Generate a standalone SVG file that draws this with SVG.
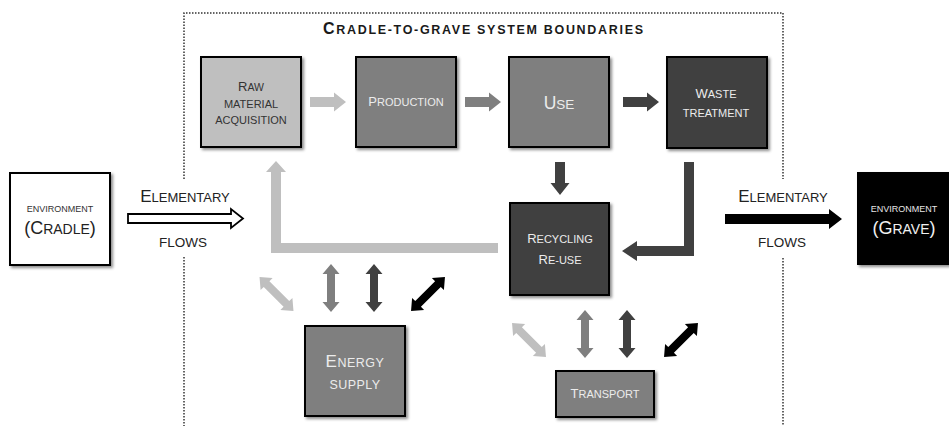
<svg xmlns="http://www.w3.org/2000/svg" xmlns:xlink="http://www.w3.org/1999/xlink" width="949" height="426" viewBox="0 0 949 426">
  <defs>
    <filter id="shadow" x="-10%" y="-10%" width="125%" height="125%">
      <feDropShadow dx="2" dy="2" stdDeviation="1.6" flood-color="#000" flood-opacity="0.45"/>
    </filter>
    <!-- double-headed exchange arrow, vertical, centred on the origin -->
    <path id="dbl" d="M0,-24 L8.5,-14 L4,-14 L4,14 L8.5,14 L0,24 L-8.5,14 L-4,14 L-4,-14 L-8.5,-14 Z"/>
    <!-- single flow arrow pointing right, starting at the origin -->
    <path id="fwd" d="M0,-5 L24,-5 L24,-9.5 L36,0 L24,9.5 L24,5 L0,5 Z"/>
  </defs>
  <style>
    text { font-family: "Liberation Sans", Arial, sans-serif; text-anchor: middle; }
    .box { stroke: #000; stroke-width: 2; filter: url(#shadow); }
    .light { fill: #bfbfbf; }
    .mid { fill: #7f7f7f; }
    .dark { fill: #404040; }
    .black { fill: #000; }
    .lbl-dark { fill: #333; }
    .lbl-light { fill: #ececec; }
    .boundary { fill: none; stroke: #333; stroke-width: 1.5; stroke-dasharray: 1.5 1.5; }
    .title { font-weight: bold; fill: #1a1a1a; }
  </style>

  <rect width="949" height="426" fill="#fff"/>

  <!-- system boundary (dotted), interrupted where the elementary flows cross -->
  <g id="boundary">
    <path class="boundary" d="M184,179 V13 H783 V179 M184,257 V426 M783,258 V426"/>
    <text class="title" x="483" y="34" textLength="320" lengthAdjust="spacing"><tspan font-size="16">C</tspan><tspan font-size="12.5">RADLE-TO-GRAVE SYSTEM BOUNDARIES</tspan></text>
  </g>

  <!-- connectors -->
  <g id="connectors">
    <!-- main life-cycle chain -->
    <use xlink:href="#fwd" class="light" transform="translate(310,102)"/>
    <use xlink:href="#fwd" class="mid" transform="translate(465,102)"/>
    <use xlink:href="#fwd" class="dark" transform="translate(623,102)"/>
    <!-- use to recycling -->
    <path class="dark" d="M555,162 H565 V183 H569.5 L560,195 L550.5,183 H555 Z"/>
    <!-- waste treatment to recycling -->
    <path class="dark" d="M684,162 H694 V256 H637 V261 L622,251 L637,241 V246 H684 Z"/>
    <!-- recycling back to raw material acquisition -->
    <path class="light" d="M498,243 H281 V172 H286 L276,161 L266,172 H271 V253 H498 Z"/>

    <!-- elementary flows in (cradle) and out (grave) -->
    <path d="M128,214 H231 V209 L243,218.5 L231,228 V223 H128 Z" fill="#fff" stroke="#000" stroke-width="1.8" stroke-linejoin="miter"/>
    <path class="black" d="M725,214 H829 V209 L842,219 L829,229 V224 H725 Z"/>

    <!-- exchanges with energy supply -->
    <use xlink:href="#dbl" class="light" transform="translate(276.5,294) rotate(-45)"/>
    <use xlink:href="#dbl" class="mid" transform="translate(331,288)"/>
    <use xlink:href="#dbl" class="dark" transform="translate(374,288)"/>
    <use xlink:href="#dbl" class="black" transform="translate(428,294) rotate(45)"/>

    <!-- exchanges with transport -->
    <use xlink:href="#dbl" class="light" transform="translate(529,340) rotate(-45)"/>
    <use xlink:href="#dbl" class="mid" transform="translate(585,334)"/>
    <use xlink:href="#dbl" class="dark" transform="translate(627,334)"/>
    <use xlink:href="#dbl" class="black" transform="translate(681,340) rotate(45)"/>
  </g>

  <g id="cradle">
    <rect class="box" x="10" y="173" width="100" height="92" fill="#fff"/>
    <text x="60" y="212" font-size="9" fill="#333">ENVIRONMENT</text>
    <text x="60" y="234" fill="#222"><tspan font-size="18">(C</tspan><tspan font-size="14">RADLE</tspan><tspan font-size="18">)</tspan></text>
  </g>

  <g id="flows-in">
    <text x="185" y="202" fill="#222"><tspan font-size="17">E</tspan><tspan font-size="13">LEMENTARY</tspan></text>
    <text x="183" y="247" font-size="13.5" fill="#222">FLOWS</text>
  </g>

  <g id="raw-material">
    <rect class="box light" x="201" y="57" width="100" height="90"/>
    <text class="lbl-dark" x="251" y="91"><tspan font-size="13">R</tspan><tspan font-size="10.5">AW</tspan></text>
    <text class="lbl-dark" x="251" y="108" font-size="11">MATERIAL</text>
    <text class="lbl-dark" x="251" y="124" font-size="11">ACQUISITION</text>
  </g>

  <g id="production">
    <rect class="box mid" x="356" y="57" width="100" height="90"/>
    <text class="lbl-light" x="406" y="106"><tspan font-size="13">P</tspan><tspan font-size="11">RODUCTION</tspan></text>
  </g>

  <g id="use-phase">
    <rect class="box mid" x="509" y="57" width="100" height="90"/>
    <text class="lbl-light" x="559" y="109"><tspan font-size="17.5">U</tspan><tspan font-size="13.5">SE</tspan></text>
  </g>

  <g id="waste-treatment">
    <rect class="box dark" x="667" y="57" width="100" height="91"/>
    <text class="lbl-light" x="716" y="98"><tspan font-size="13">W</tspan><tspan font-size="11">ASTE</tspan></text>
    <text class="lbl-light" x="716" y="117" font-size="11">TREATMENT</text>
  </g>

  <g id="recycling">
    <rect class="box dark" x="510" y="203" width="99" height="92"/>
    <text class="lbl-light" x="560" y="243"><tspan font-size="13">R</tspan><tspan font-size="11">ECYCLING</tspan></text>
    <text class="lbl-light" x="560" y="264"><tspan font-size="13">R</tspan><tspan font-size="11">E-USE</tspan></text>
  </g>

  <g id="flows-out">
    <text x="783" y="202" fill="#222"><tspan font-size="17">E</tspan><tspan font-size="13">LEMENTARY</tspan></text>
    <text x="782" y="247" font-size="13.5" fill="#222">FLOWS</text>
  </g>

  <g id="grave">
    <rect class="box black" x="858" y="173" width="90" height="91"/>
    <text x="904" y="212" font-size="9" fill="#e6e6e6">ENVIRONMENT</text>
    <text x="904" y="234" fill="#f0f0f0"><tspan font-size="18">(G</tspan><tspan font-size="14">RAVE</tspan><tspan font-size="18">)</tspan></text>
  </g>

  <g id="energy-supply">
    <rect class="box mid" x="305" y="326" width="100" height="90"/>
    <text class="lbl-light" x="355" y="367" letter-spacing="0.5"><tspan font-size="17">E</tspan><tspan font-size="12.5">NERGY</tspan></text>
    <text class="lbl-light" x="355" y="389" font-size="12.5" letter-spacing="0.4">SUPPLY</text>
  </g>

  <g id="transport">
    <rect class="box mid" x="556" y="371" width="98" height="46"/>
    <text class="lbl-light" x="605" y="398"><tspan font-size="13">T</tspan><tspan font-size="11">RANSPORT</tspan></text>
  </g>
</svg>
